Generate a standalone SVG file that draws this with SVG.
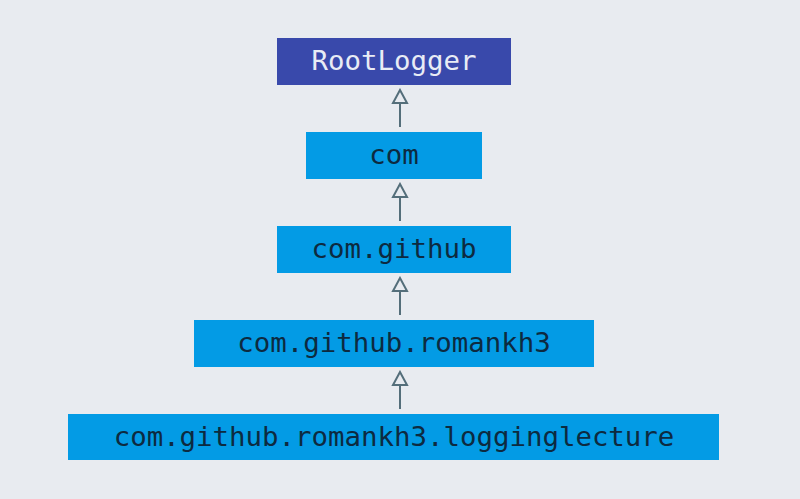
<svg xmlns="http://www.w3.org/2000/svg" width="800" height="499" viewBox="0 0 800 499">
<style>
.box{fill:#039be5}
.root{fill:#3949ab}
.t{font-family:"DejaVu Sans Mono","Liberation Mono",monospace;font-size:27.4px;text-anchor:middle;fill:#0d2a40}
.tw{fill:#e8ecf5}
.c{stroke:#546e7a;stroke-width:2;fill:none}
</style>
<defs>
<marker id="tri" markerWidth="18" markerHeight="18" refX="16" refY="9" orient="auto" markerUnits="userSpaceOnUse" viewBox="0 0 18 18">
<path d="M16 9 L3 2 L3 16 Z" fill="#e8ebf0" stroke="#546e7a" stroke-width="2" stroke-linejoin="miter"/>
</marker>
</defs>
<rect width="800" height="499" fill="#e8ebf0"/>
<g id="connectors">
<line class="c" x1="400" y1="127" x2="400" y2="90" marker-end="url(#tri)"/>
<line class="c" x1="400" y1="221" x2="400" y2="184" marker-end="url(#tri)"/>
<line class="c" x1="400" y1="315" x2="400" y2="278" marker-end="url(#tri)"/>
<line class="c" x1="400" y1="409" x2="400" y2="372" marker-end="url(#tri)"/>
</g>
<g id="root"><rect class="root" x="277" y="38" width="234" height="47"/><text class="t tw" x="394" y="70">RootLogger</text></g>
<g id="com"><rect class="box" x="306" y="132" width="176" height="47"/><text class="t" x="394" y="164">com</text></g>
<g id="comgithub"><rect class="box" x="277" y="226" width="234" height="47"/><text class="t" x="394" y="258">com.github</text></g>
<g id="romankh3"><rect class="box" x="194" y="320" width="400" height="47"/><text class="t" x="394" y="352">com.github.romankh3</text></g>
<g id="logginglecture"><rect class="box" x="68" y="414" width="651" height="46"/><text class="t" x="394" y="446">com.github.romankh3.logginglecture</text></g>
</svg>
